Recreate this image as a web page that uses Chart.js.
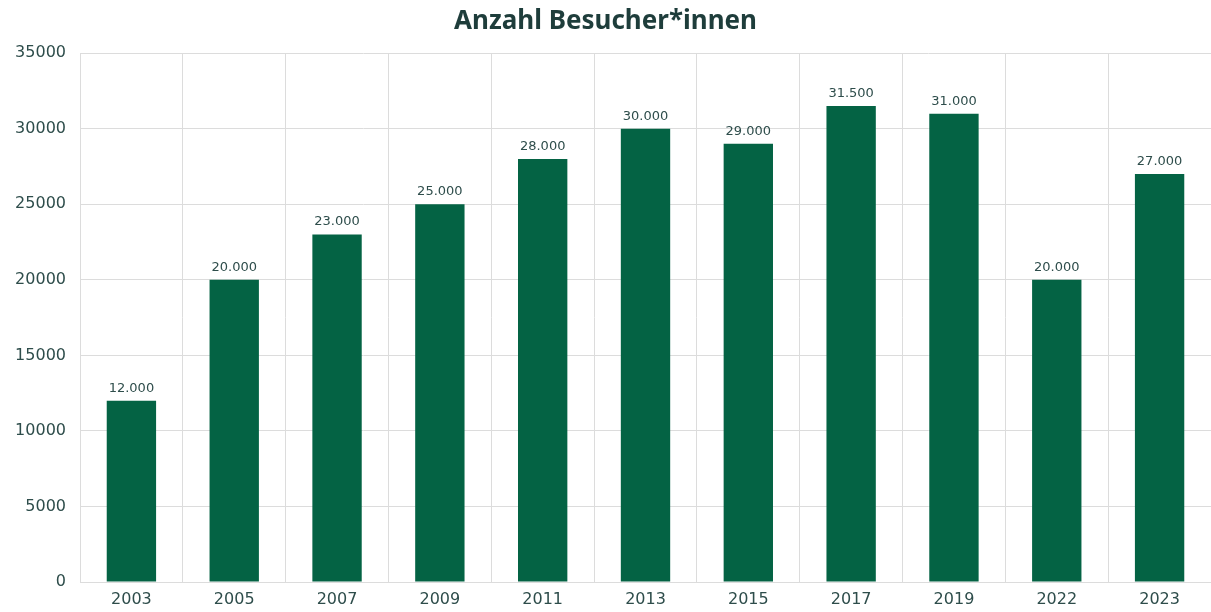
<!DOCTYPE html>
<html>
<head>
<meta charset="utf-8">
<script src="https://cdn.jsdelivr.net/npm/chart.js@4"></script>
<style>
  html, body { margin: 0; padding: 0; background: #fff; }
  #wrap { width: 1211px; height: 612px; }
</style>
</head>
<body>
<div id="wrap"><canvas id="besucherChart"></canvas></div>
<script>
// 데이터
const years = ['2003', '2005', '2007', '2009', '2011', '2013', '2015', '2017', '2019', '2022', '2023'];
const visitors = [12000, 20000, 23000, 25000, 28000, 30000, 29000, 31500, 31000, 20000, 27000];
const yTicks = [0, 5000, 10000, 15000, 20000, 25000, 30000, 35000];

const textColor = '#2e4d4b';
const barColor = '#046344';
const gridColor = '#dcdcdc';
const fontFamily = '"DejaVu Sans", sans-serif';

// 막대 위에 값 표시 (12.000 형식)
const valueLabels = {
    id: 'valueLabels',
    afterDatasetsDraw(chart) {
        const ctx = chart.ctx;
        const meta = chart.getDatasetMeta(0);
        ctx.save();
        ctx.font = '13px ' + fontFamily;
        ctx.fillStyle = textColor;
        ctx.textAlign = 'center';
        ctx.textBaseline = 'bottom';
        meta.data.forEach(function(bar, i) {
            const txt = visitors[i].toString().replace(/\B(?=(\d{3})+(?!\d))/g, '.');
            ctx.fillText(txt, bar.x, bar.y - 6);
        });
        ctx.restore();
    }
};

const config = {
    type: 'bar',
    data: {
        labels: years,
        datasets: [{
            label: 'Anzahl Besucher*innen',
            data: visitors,
            backgroundColor: barColor,
            categoryPercentage: 1.0,
            barPercentage: 0.48
        }]
    },
    options: {
        responsive: true,
        maintainAspectRatio: false,
        animation: false,
        layout: { padding: { left: 0, right: 0, top: 0, bottom: 0 } },
        plugins: {
            legend: { display: false },
            tooltip: { enabled: false },
            title: {
                display: true,
                text: 'Anzahl Besucher*innen',
                color: '#1e3d3b',
                font: { family: '"Noto Sans", sans-serif', size: 26, weight: 'bold' },
                padding: { top: 6, bottom: 16 }
            }
        },
        scales: {
            x: {
                afterFit: function(axis) { axis.height = 30; },
                grid: { color: gridColor, offset: true, drawTicks: false },
                border: { color: gridColor },
                ticks: {
                    color: textColor,
                    font: { family: fontFamily, size: 16 },
                    padding: 8
                }
            },
            y: {
                min: 0,
                max: 35000,
                afterBuildTicks: function(axis) {
                    axis.ticks = yTicks.map(function(v) { return { value: v }; });
                },
                afterFit: function(axis) { axis.width = 80; },
                grid: { color: gridColor, drawTicks: false },
                border: { color: gridColor },
                ticks: {
                    color: textColor,
                    font: { family: fontFamily, size: 16 },
                    padding: 14,
                    callback: function(v) { return String(v); }
                }
            }
        }
    },
    plugins: [valueLabels]
};

const besucherChart = new Chart(document.getElementById('besucherChart'), config);
</script>
</body>
</html>
